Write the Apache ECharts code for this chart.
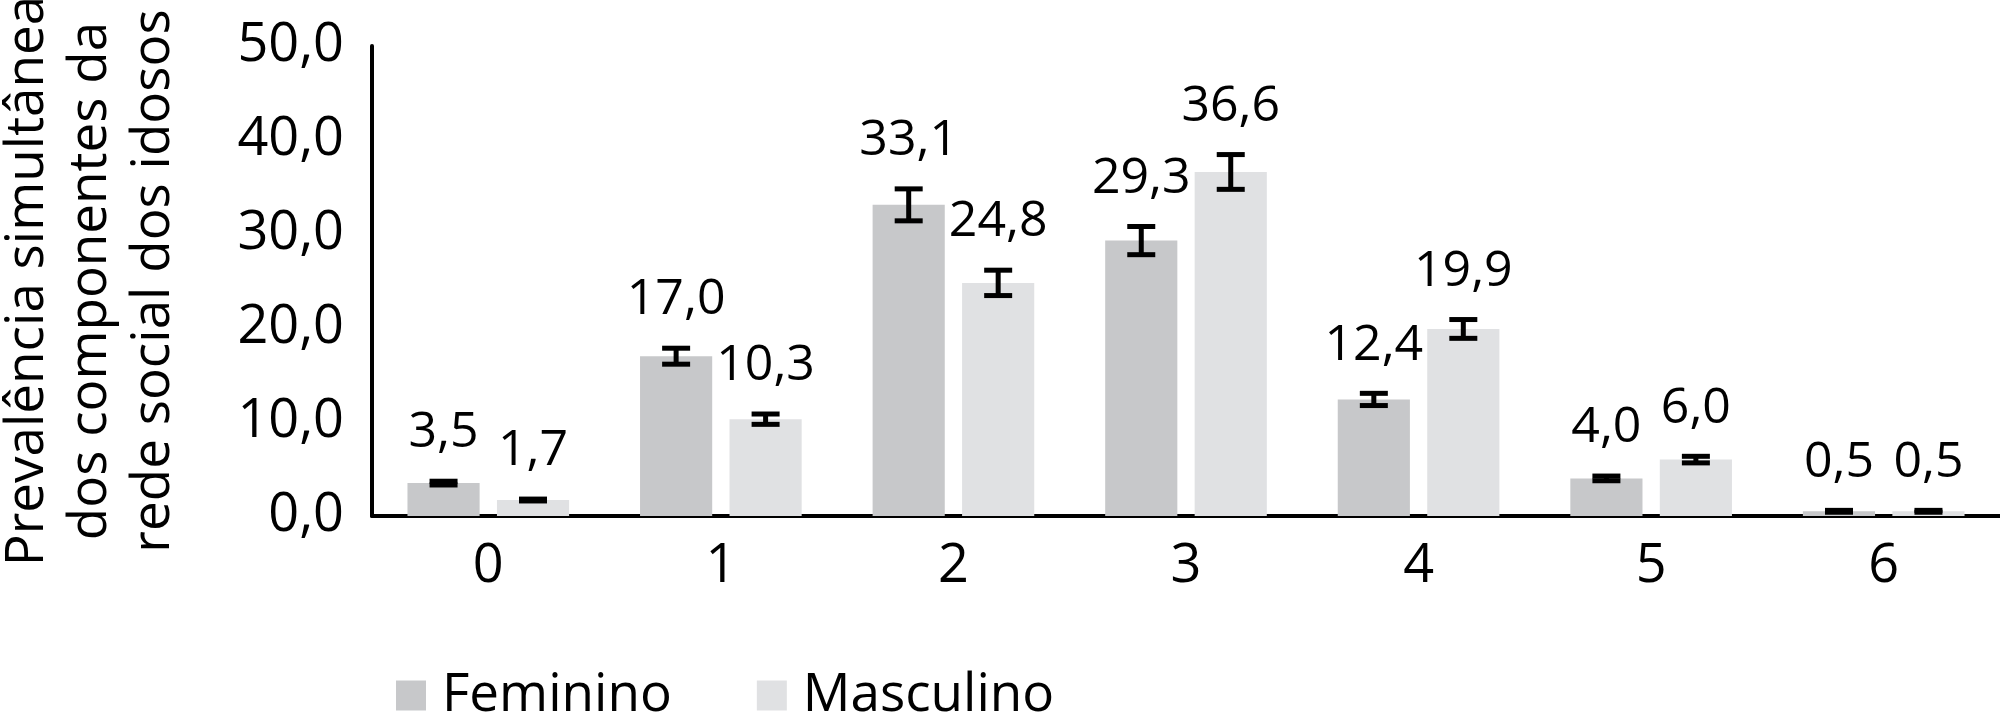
<!DOCTYPE html>
<html>
<head>
<meta charset="utf-8">
<script src="https://cdn.jsdelivr.net/npm/echarts@6/dist/echarts.min.js"></script>
<style>
  html, body { margin: 0; padding: 0; background: #ffffff; }
  #chart { width: 2000px; height: 712px; }
</style>
</head>
<body>
<div id="chart"></div>
<script>
// ---- data ----
const categories = ['0', '1', '2', '3', '4', '5', '6'];
const seriesNames = ['Feminino', 'Masculino'];
const feminino  = [3.5, 17.0, 33.1, 29.3, 12.4, 4.0, 0.5];
const masculino = [1.7, 10.3, 24.8, 36.6, 19.9, 6.0, 0.5];
// confidence interval limits (error bars)
const femininoLow  = [3.3, 16.15, 31.4, 27.8, 11.75, 3.75, 0.4];
const femininoHigh = [3.7, 17.85, 34.8, 30.8, 13.05, 4.25, 0.6];
const masculinoLow  = [1.6, 9.75, 23.45, 34.75, 18.9, 5.65, 0.4];
const masculinoHigh = [1.8, 10.85, 26.15, 38.45, 20.9, 6.35, 0.6];
const yTicks = [0, 10, 20, 30, 40, 50];
const yAxisTitle = 'Prevalência simultânea\ndos componentes da\nrede social dos idosos';

// ---- styling ----
const FONT = 'Open Sans';
const colorF = '#c7c8ca';
const colorM = '#e0e1e3';
const CAT_GAP = 0.305;
const BAR_GAP = 0.24;

function fmt(v) { return v.toFixed(1).replace('.', ','); }

function errorSeries(name, values, lows, highs, side) {
  return {
    name: name,
    type: 'custom',
    z: 10,
    silent: true,
    data: values.map(function (v, i) { return [i, lows[i], highs[i], v]; }),
    encode: { x: 0, y: [1, 2] },
    renderItem: function (params, api) {
      const idx = api.value(0);
      const center = api.coord([idx, 0])[0];
      const band = api.size([1, 0])[0];
      const barW = band * (1 - CAT_GAP) / (2 + BAR_GAP);
      const offset = barW * (1 + BAR_GAP) / 2;
      const x = center + side * offset;
      const yLow = api.coord([idx, api.value(1)])[1];
      const yHigh = api.coord([idx, api.value(2)])[1];
      const half = 14;
      const lineStyle = { stroke: '#000000', lineWidth: 5, fill: null };
      return {
        type: 'group',
        children: [
          { type: 'line', shape: { x1: x, y1: yLow, x2: x, y2: yHigh }, style: lineStyle },
          { type: 'line', shape: { x1: x - half, y1: yLow, x2: x + half, y2: yLow }, style: lineStyle },
          { type: 'line', shape: { x1: x - half, y1: yHigh, x2: x + half, y2: yHigh }, style: lineStyle },
          { type: 'text', style: {
              text: fmt(api.value(3)),
              x: x, y: yHigh - 48,
              align: 'center', verticalAlign: 'middle',
              fontFamily: FONT, fontSize: 50, fill: '#000000'
          } }
        ]
      };
    }
  };
}

const chart = echarts.init(document.getElementById('chart'), null, { renderer: 'canvas' });
chart.setOption({
  animation: false,
  backgroundColor: '#ffffff',
  textStyle: { fontFamily: FONT, color: '#000000' },
  grid: { left: 372, right: 0, top: 46, bottom: 196, containLabel: false, outerBoundsMode: 'none' },
  legend: {
    data: seriesNames,
    left: 391,
    top: 664,
    itemWidth: 30,
    itemHeight: 30,
    itemGap: 85,
    icon: 'rect',
    textStyle: { fontFamily: FONT, fontSize: 53, color: '#000000', padding: [0, 0, 0, 11] }
  },
  xAxis: {
    type: 'category',
    data: categories,
    axisLine: { show: true, lineStyle: { color: '#000000', width: 4 } },
    axisTick: { show: false },
    axisLabel: { fontFamily: FONT, fontSize: 54, color: '#000000', margin: 24 },
    splitLine: { show: false }
  },
  yAxis: {
    type: 'value',
    min: yTicks[0],
    max: yTicks[yTicks.length - 1],
    interval: yTicks[1] - yTicks[0],
    name: yAxisTitle,
    nameLocation: 'middle',
    nameRotate: 90,
    nameGap: 187,
    nameTextStyle: { fontFamily: FONT, fontSize: 53, lineHeight: 63, color: '#000000' },
    axisLine: { show: true, lineStyle: { color: '#000000', width: 4 } },
    axisTick: { show: false },
    splitLine: { show: false },
    axisLabel: {
      fontFamily: FONT, fontSize: 54, color: '#000000', margin: 28,
      padding: [8, 0, 0, 0],
      formatter: function (v) { return fmt(v); }
    }
  },
  series: [
    {
      name: seriesNames[0], type: 'bar', data: feminino,
      itemStyle: { color: colorF },
      barGap: (BAR_GAP * 100) + '%', barCategoryGap: (CAT_GAP * 100) + '%'
    },
    {
      name: seriesNames[1], type: 'bar', data: masculino,
      itemStyle: { color: colorM },
      barGap: (BAR_GAP * 100) + '%', barCategoryGap: (CAT_GAP * 100) + '%'
    },
    errorSeries('IC ' + seriesNames[0], feminino, femininoLow, femininoHigh, -1),
    errorSeries('IC ' + seriesNames[1], masculino, masculinoLow, masculinoHigh, 1)
  ]
});
</script>
</body>
</html>
